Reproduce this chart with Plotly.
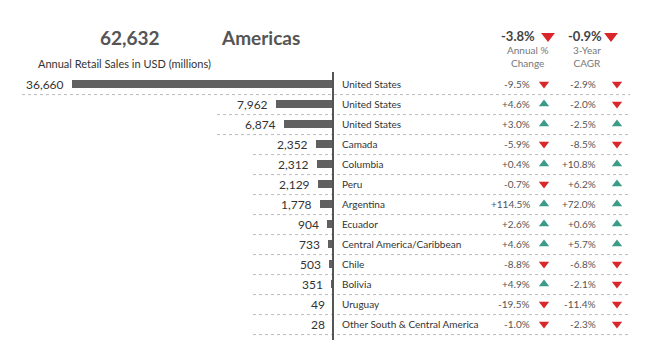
import plotly.graph_objects as go

W, H = 653, 358

# ---- data ----
names = ["United States", "United States", "United States", "Camada", "Columbia", "Peru",
         "Argentina", "Ecuador", "Central America/Caribbean", "Chile", "Bolivia",
         "Uruguay", "Other South & Central America"]
sales = [36660, 7962, 6874, 2352, 2312, 2129, 1778, 904, 733, 503, 351, 49, 28]
annual_pct = [-9.5, 4.6, 3.0, -5.9, 0.4, -0.7, 114.5, 2.6, 4.6, -8.8, 4.9, -19.5, -1.0]
cagr_pct = [-2.9, -2.0, -2.5, -8.5, 10.8, 6.2, 72.0, 0.6, 5.7, -6.8, -2.1, -11.4, -2.3]
annual_up = [False, True, True, False, True, False, True, True, True, False, True, False, False]
cagr_up = [False, False, True, False, True, True, True, True, True, False, False, False, False]
total_sales = "62,632"
region = "Americas"
total_annual = "-3.8%"
total_cagr = "-0.9%"
sep_start = [22, 217, 217, 253, 253, 253, 253, 253, 253, 253, 253, 253, 253]

RED = "#d9262b"
GREEN = "#3a9c88"
FONT = "Lato"

rows = list(range(len(names)))

def fmt(v):
    return ("+" if v >= 0 else "") + f"{v:.1f}%"

fig = go.Figure()

# bars
fig.add_trace(go.Bar(
    x=sales, y=rows, orientation="h", width=0.4,
    marker=dict(color="#606060", line=dict(width=0)),
    xaxis="x", yaxis="y", hoverinfo="skip",
))

# row triangles
fig.add_trace(go.Scatter(
    x=[544] * len(rows), y=rows, mode="markers", xaxis="x2", yaxis="y",
    marker=dict(symbol=["triangle-up" if u else "triangle-down" for u in annual_up],
                color=[GREEN if u else RED for u in annual_up], size=9, line=dict(width=0)),
    hoverinfo="skip",
))
fig.add_trace(go.Scatter(
    x=[617] * len(rows), y=rows, mode="markers", xaxis="x2", yaxis="y",
    marker=dict(symbol=["triangle-up" if u else "triangle-down" for u in cagr_up],
                color=[GREEN if u else RED for u in cagr_up], size=9, line=dict(width=0)),
    hoverinfo="skip",
))
# header triangles
fig.add_trace(go.Scatter(
    x=[548, 611], y=[-2.4, -2.4], mode="markers", xaxis="x2", yaxis="y",
    marker=dict(symbol="triangle-down", color=RED, size=12, line=dict(width=0)),
    hoverinfo="skip",
))

ann = []
shapes = []
for i in rows:
    ann.append(dict(x=sales[i], y=i, xref="x", yref="y", text=f"{sales[i]:,}",
                    xanchor="right", yanchor="middle", xshift=-6, showarrow=False,
                    font=dict(family=FONT, size=12, color="#333333")))
    ann.append(dict(x=340, y=i, xref="x2", yref="y", text=names[i],
                    xanchor="left", yanchor="middle", showarrow=False,
                    font=dict(family=FONT, size=10, color="#333333")))
    ann.append(dict(x=532, y=i, xref="x2", yref="y", text=fmt(annual_pct[i]),
                    xanchor="right", yanchor="middle", showarrow=False,
                    font=dict(family=FONT, size=10, color="#555555")))
    ann.append(dict(x=598, y=i, xref="x2", yref="y", text=fmt(cagr_pct[i]),
                    xanchor="right", yanchor="middle", showarrow=False,
                    font=dict(family=FONT, size=10, color="#555555")))
    shapes.append(dict(type="line", xref="x2", yref="y", x0=sep_start[i], x1=630,
                       y0=i + 0.53, y1=i + 0.53,
                       line=dict(color="#bbbbbb", width=1, dash="dot")))

# vertical axis line
shapes.append(dict(type="line", xref="x2", yref="y", x0=333, x1=333, y0=-0.6, y1=12.8,
                   line=dict(color="#555555", width=2)))

# header texts
ann += [
    dict(x=130, y=-2.35, xref="x2", yref="y", text=f"<b>{total_sales}</b>", showarrow=False,
         xanchor="center", yanchor="middle", font=dict(family=FONT, size=19, color="#555555")),
    dict(x=260, y=-2.35, xref="x2", yref="y", text=f"<b>{region}</b>", showarrow=False,
         xanchor="center", yanchor="middle", font=dict(family=FONT, size=19, color="#555555")),
    dict(x=36, y=-1.05, xref="x2", yref="y", text="Annual Retail Sales in USD (millions)",
         showarrow=False, xanchor="left", yanchor="middle",
         font=dict(family=FONT, size=11, color="#333333")),
    dict(x=518, y=-2.4, xref="x2", yref="y", text=f"<b>{total_annual}</b>", showarrow=False,
         xanchor="center", yanchor="middle", font=dict(family=FONT, size=13, color="#444444")),
    dict(x=585, y=-2.4, xref="x2", yref="y", text=f"<b>{total_cagr}</b>", showarrow=False,
         xanchor="center", yanchor="middle", font=dict(family=FONT, size=13, color="#444444")),
    dict(x=527, y=-1.4, xref="x2", yref="y", text="Annual %<br>Change", showarrow=False,
         xanchor="center", yanchor="middle",
         font=dict(family=FONT, size=10, color="#777777")),
    dict(x=587, y=-1.4, xref="x2", yref="y", text="3-Year<br>CAGR", showarrow=False,
         xanchor="center", yanchor="middle",
         font=dict(family=FONT, size=10, color="#777777")),
]

R = 36660 * 333 / 261
fig.update_layout(
    width=W, height=H, margin=dict(l=0, r=0, t=0, b=0),
    paper_bgcolor="white", plot_bgcolor="rgba(0,0,0,0)", showlegend=False,
    xaxis=dict(domain=[0, 333 / W], range=[R, 0], visible=False, fixedrange=True, anchor="y"),
    xaxis2=dict(domain=[0, 1], range=[0, W], visible=False, fixedrange=True, anchor="y"),
    yaxis=dict(domain=[0, 1], range=[(H - 84) / 20, -84 / 20], visible=False, fixedrange=True),
    annotations=ann, shapes=shapes, bargap=0,
)

fig.write_html("out.html")
